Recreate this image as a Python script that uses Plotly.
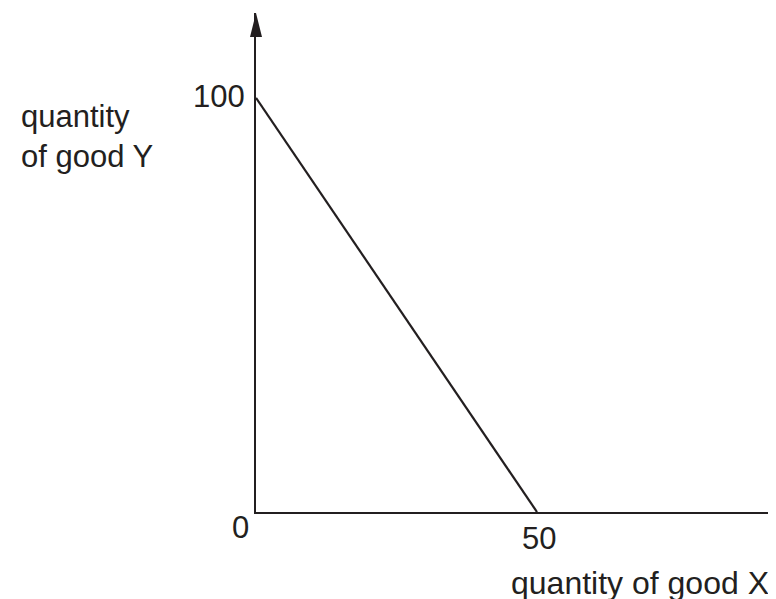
import plotly.graph_objects as go

# Data
qty_x = [0, 50]
qty_y = [100, 0]
x_tick_vals = [0, 50]
x_tick_text = ["0", "50"]
y_tick_vals = [100]
y_tick_text = ["100"]
x_title = "quantity of good X"
y_title = "quantity<br>of good Y"

INK = "#231f20"
FONT = "Liberation Sans, Arial, Helvetica, sans-serif"
W, H = 776, 599
ML, MR, MT, MB = 248, 0, 5, 95
PW, PH = W - ML - MR, H - MT - MB
X_MAX = 93.95
Y_MAX = 120.5

fig = go.Figure()
fig.add_trace(go.Scatter(x=qty_x, y=qty_y, mode="lines",
                         line=dict(color=INK, width=2.2), hoverinfo="skip",
                         showlegend=False, cliponaxis=False))

ann = []
ann.append(dict(x=x_tick_vals[0], y=0, text=x_tick_text[0], showarrow=False,
                xanchor="center", yanchor="middle", xshift=-16, yshift=-15))
ann.append(dict(x=x_tick_vals[1], y=0, text=x_tick_text[1], showarrow=False,
                xanchor="center", yanchor="middle", xshift=2, yshift=-26))
ann.append(dict(x=0, y=y_tick_vals[0], text=y_tick_text[0], showarrow=False,
                xanchor="center", yanchor="middle", xshift=-37, yshift=1))
ann.append(dict(xref="paper", yref="paper", x=1, y=0, text=x_title, showarrow=False,
                font=dict(size=32),
                xanchor="right", yanchor="middle", xshift=-13, yshift=-71))
ann.append(dict(xref="paper", yref="paper", x=0, y=1, text=y_title, showarrow=False,
                xanchor="left", yanchor="middle", align="left", xshift=-237,
                yshift=-(128 - MT)))

hl, hw = 24, 6
shapes = [
    dict(type="path", xref="paper", yref="paper",
         path=f"M {-hw/PW} {1 - hl/PH} L 0 1 L {hw/PW} {1 - hl/PH} Z",
         fillcolor=INK, line=dict(width=0)),
    dict(type="path", xref="paper", yref="paper",
         path=f"M {1 - 14/PW} {7/PH} L {1 + 10/PW} 0 L {1 - 14/PW} {-7/PH} Z",
         fillcolor=INK, line=dict(width=0)),
]

fig.update_layout(
    width=W, height=H,
    margin=dict(l=ML, r=MR, t=MT, b=MB, pad=0),
    paper_bgcolor="white", plot_bgcolor="white",
    font=dict(family=FONT, size=31, color=INK),
    annotations=ann, shapes=shapes,
    xaxis=dict(range=[0, X_MAX], showgrid=False, zeroline=False, showticklabels=False,
               ticks="", showline=True, linewidth=2.4, linecolor=INK, fixedrange=True),
    yaxis=dict(range=[0, Y_MAX], showgrid=False, zeroline=False, showticklabels=False,
               ticks="", showline=True, linewidth=2.4, linecolor=INK, fixedrange=True),
    showlegend=False,
)

fig.write_html("out.html", config={"displayModeBar": False})
